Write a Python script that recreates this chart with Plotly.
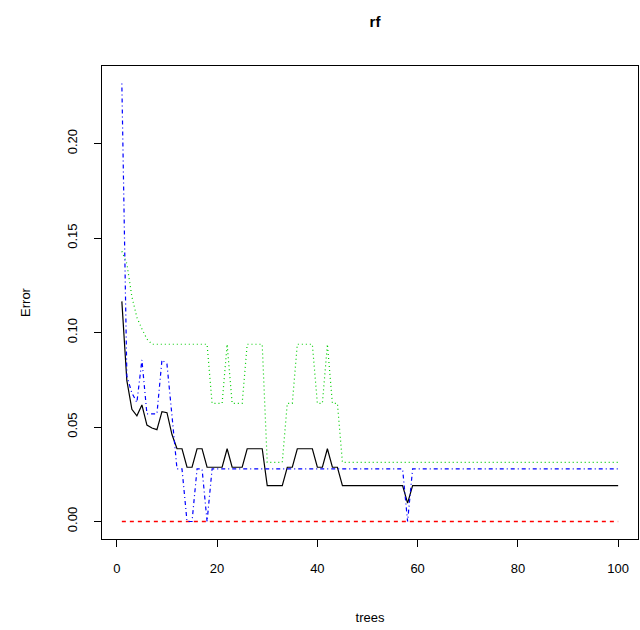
import plotly.graph_objects as go

trees = list(range(1, 101))

oob = [
    0.1165, 0.0745, 0.0594, 0.0559, 0.0617, 0.0510, 0.0495, 0.0486, 0.0581, 0.0576,
    0.0460, 0.0385, 0.0385, 0.0287, 0.0287, 0.0385, 0.0385, 0.0287, 0.0287, 0.0287,
    0.0287, 0.0385, 0.0287, 0.0287, 0.0287, 0.0385, 0.0385, 0.0385, 0.0385, 0.0190,
    0.0190, 0.0190, 0.0190, 0.0287, 0.0287, 0.0385, 0.0385, 0.0385, 0.0385, 0.0287,
    0.0287, 0.0385, 0.0287, 0.0287, 0.0190, 0.0190, 0.0190, 0.0190, 0.0190, 0.0190,
    0.0190, 0.0190, 0.0190, 0.0190, 0.0190, 0.0190, 0.0190, 0.0097, 0.0190, 0.0190,
    0.0190, 0.0190, 0.0190, 0.0190, 0.0190, 0.0190, 0.0190, 0.0190, 0.0190, 0.0190,
    0.0190, 0.0190, 0.0190, 0.0190, 0.0190, 0.0190, 0.0190, 0.0190, 0.0190, 0.0190,
    0.0190, 0.0190, 0.0190, 0.0190, 0.0190, 0.0190, 0.0190, 0.0190, 0.0190, 0.0190,
    0.0190, 0.0190, 0.0190, 0.0190, 0.0190, 0.0190, 0.0190, 0.0190, 0.0190, 0.0190,
]

class1 = [
    0.0, 0.0, 0.0, 0.0, 0.0, 0.0, 0.0, 0.0, 0.0, 0.0,
    0.0, 0.0, 0.0, 0.0, 0.0, 0.0, 0.0, 0.0, 0.0, 0.0,
    0.0, 0.0, 0.0, 0.0, 0.0, 0.0, 0.0, 0.0, 0.0, 0.0,
    0.0, 0.0, 0.0, 0.0, 0.0, 0.0, 0.0, 0.0, 0.0, 0.0,
    0.0, 0.0, 0.0, 0.0, 0.0, 0.0, 0.0, 0.0, 0.0, 0.0,
    0.0, 0.0, 0.0, 0.0, 0.0, 0.0, 0.0, 0.0, 0.0, 0.0,
    0.0, 0.0, 0.0, 0.0, 0.0, 0.0, 0.0, 0.0, 0.0, 0.0,
    0.0, 0.0, 0.0, 0.0, 0.0, 0.0, 0.0, 0.0, 0.0, 0.0,
    0.0, 0.0, 0.0, 0.0, 0.0, 0.0, 0.0, 0.0, 0.0, 0.0,
    0.0, 0.0, 0.0, 0.0, 0.0, 0.0, 0.0, 0.0, 0.0, 0.0,
]

class2 = [
    0.1430, 0.1365, 0.1190, 0.1080, 0.1020, 0.0966, 0.0938, 0.0938, 0.0938, 0.0938,
    0.0938, 0.0938, 0.0938, 0.0938, 0.0938, 0.0938, 0.0938, 0.0938, 0.0625, 0.0625,
    0.0625, 0.0938, 0.0625, 0.0625, 0.0625, 0.0938, 0.0938, 0.0938, 0.0938, 0.0313,
    0.0313, 0.0313, 0.0313, 0.0625, 0.0625, 0.0938, 0.0938, 0.0938, 0.0938, 0.0625,
    0.0625, 0.0938, 0.0625, 0.0625, 0.0313, 0.0313, 0.0313, 0.0313, 0.0313, 0.0313,
    0.0313, 0.0313, 0.0313, 0.0313, 0.0313, 0.0313, 0.0313, 0.0313, 0.0313, 0.0313,
    0.0313, 0.0313, 0.0313, 0.0313, 0.0313, 0.0313, 0.0313, 0.0313, 0.0313, 0.0313,
    0.0313, 0.0313, 0.0313, 0.0313, 0.0313, 0.0313, 0.0313, 0.0313, 0.0313, 0.0313,
    0.0313, 0.0313, 0.0313, 0.0313, 0.0313, 0.0313, 0.0313, 0.0313, 0.0313, 0.0313,
    0.0313, 0.0313, 0.0313, 0.0313, 0.0313, 0.0313, 0.0313, 0.0313, 0.0313, 0.0313,
]

class3 = [
    0.2318, 0.0770, 0.0680, 0.0630, 0.0855, 0.0570, 0.0570, 0.0570, 0.0855, 0.0833,
    0.0560, 0.0278, 0.0278, 0.0000, 0.0000, 0.0278, 0.0278, 0.0000, 0.0278, 0.0278,
    0.0278, 0.0278, 0.0278, 0.0278, 0.0278, 0.0278, 0.0278, 0.0278, 0.0278, 0.0278,
    0.0278, 0.0278, 0.0278, 0.0278, 0.0278, 0.0278, 0.0278, 0.0278, 0.0278, 0.0278,
    0.0278, 0.0278, 0.0278, 0.0278, 0.0278, 0.0278, 0.0278, 0.0278, 0.0278, 0.0278,
    0.0278, 0.0278, 0.0278, 0.0278, 0.0278, 0.0278, 0.0278, 0.0000, 0.0278, 0.0278,
    0.0278, 0.0278, 0.0278, 0.0278, 0.0278, 0.0278, 0.0278, 0.0278, 0.0278, 0.0278,
    0.0278, 0.0278, 0.0278, 0.0278, 0.0278, 0.0278, 0.0278, 0.0278, 0.0278, 0.0278,
    0.0278, 0.0278, 0.0278, 0.0278, 0.0278, 0.0278, 0.0278, 0.0278, 0.0278, 0.0278,
    0.0278, 0.0278, 0.0278, 0.0278, 0.0278, 0.0278, 0.0278, 0.0278, 0.0278, 0.0278,
]

x_ticks = [0, 20, 40, 60, 80, 100]
y_ticks = [0.0, 0.05, 0.10, 0.15, 0.20]
y_tick_text = ["0.00", "0.05", "0.10", "0.15", "0.20"]

series = [
    ("OOB", oob, "rgb(0,0,0)", "solid", 1.2),
    ("1", class1, "rgb(255,0,0)", "4px,4px", 1.5),
    ("2", class2, "rgb(0,205,0)", "1px,3px", 1.2),
    ("3", class3, "rgb(0,0,255)", "1px,3px,4px,3px", 1.2),
]

fig = go.Figure()
for name, vals, col, dash, w in series:
    fig.add_trace(go.Scatter(x=trees, y=vals, mode="lines", name=name,
                             line=dict(color=col, width=w, dash=dash)))

font = "Liberation Sans, Arial, Helvetica, sans-serif"
ymax = max(max(oob), max(class1), max(class2), max(class3))
xr = [1 - 0.04 * 99, 100 + 0.04 * 99]
yr = [0 - 0.04 * ymax, ymax + 0.04 * ymax]

fig.update_layout(
    width=640, height=630,
    margin=dict(l=102, r=2, t=66, b=91, autoexpand=False),
    paper_bgcolor="white", plot_bgcolor="white",
    showlegend=False,
    font=dict(family=font, size=13, color="black"),
    title=dict(text="<b>rf</b>", x=0.586, xanchor="center", y=1 - 22 / 630,
               yanchor="middle", yref="container", font=dict(size=15)),
    xaxis=dict(range=xr, tickvals=x_ticks, ticks="outside", ticklen=7, tickcolor="black",
               showgrid=False, zeroline=False, showline=True, linecolor="black",
               linewidth=1, mirror=True, ticklabelstandoff=10, automargin=False,
               title=dict(text="trees", standoff=38, font=dict(size=13))),
    yaxis=dict(range=yr, tickvals=y_ticks, ticktext=y_tick_text, ticks="outside",
               ticklen=7, tickcolor="black", tickangle=-90,
               showgrid=False, zeroline=False, showline=True, linecolor="black",
               linewidth=1, mirror=True, ticklabelstandoff=12, automargin=False,
               title=dict(text="Error", standoff=31, font=dict(size=13))),
)

fig.write_html("out.html", config={"displayModeBar": False},
               post_script="document.body.style.margin='0';document.body.style.overflow='hidden';")
